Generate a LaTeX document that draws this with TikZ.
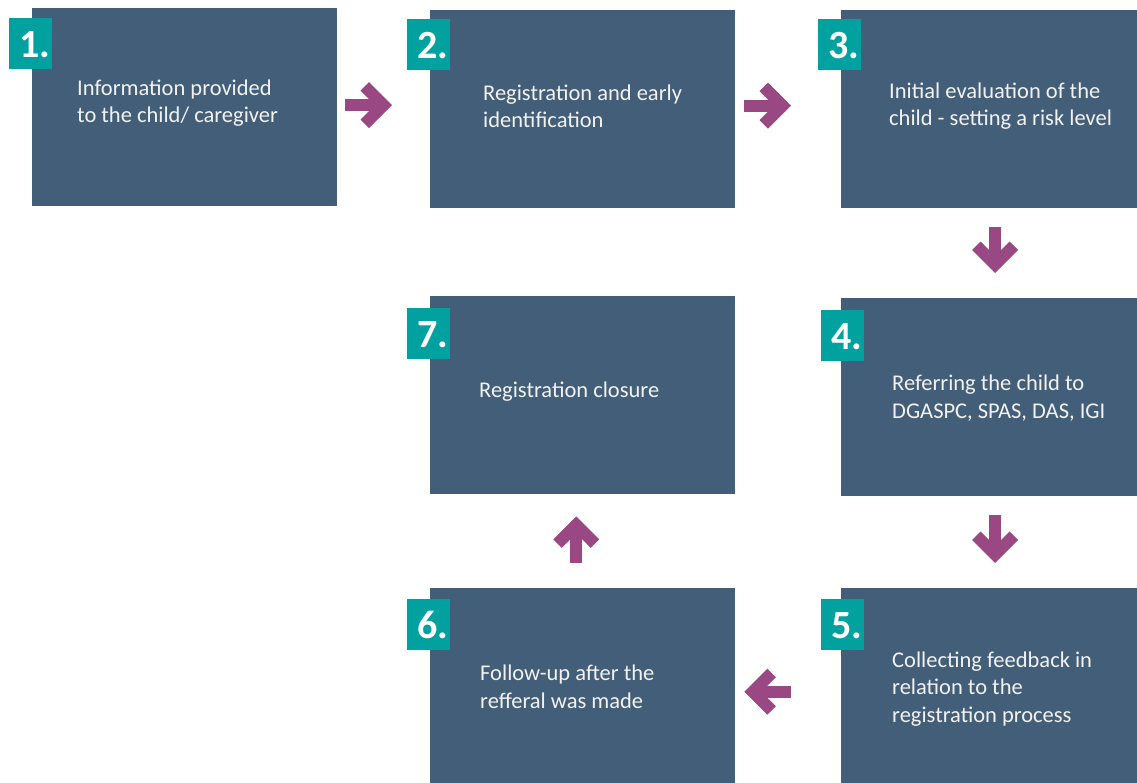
\documentclass[tikz,border=0pt]{standalone}
\usepackage{fontspec}
\setmainfont{Carlito}
\usetikzlibrary{calc}
\definecolor{boxblue}{HTML}{425E78}
\definecolor{badgeteal}{HTML}{00A19E}
\definecolor{arrowpurple}{HTML}{9A4884}
\definecolor{textwhite}{HTML}{F2F2F2}

% block arrow: shaft plus a mitred chevron head, from tail #1 to tip #2
\newcommand\flowarrow[2]{%
  \coordinate (fa-v) at ($(#2)!8.5pt!(#1)$);
  \draw[flow] (#1) -- (fa-v);
  \draw[flow, line join=miter] ($(fa-v)!26.5pt!45:(#1)$) -- (fa-v) -- ($(fa-v)!26.5pt!-45:(#1)$);
}

\begin{document}
\begin{tikzpicture}[x=1pt, y=-1pt,
  stepbox/.style={rectangle, fill=boxblue, minimum width=305pt, minimum height=198pt,
    inner sep=0pt, anchor=north west},
  badge/.style={rectangle, fill=badgeteal, minimum width=43pt, minimum height=51pt,
    inner sep=0pt, text width=39pt, align=right, text=white,
    font=\fontsize{40}{40}\selectfont\bfseries, text height=27pt, text depth=0pt,
    anchor=north west},
  steptext/.style={text=textwhite, align=left, anchor=base west, inner sep=0pt,
    font=\fontsize{22.5}{27.5}\selectfont},
  flow/.style={draw=arrowpurple, line width=12pt, line cap=butt}
]
\useasboundingbox (0,0) rectangle (1137,783);
\clip (0,0) rectangle (1137,783);

% step boxes
\node[stepbox] (b1) at (32,8) {};
\node[stepbox] (b2) at (430,10) {};
\node[stepbox] (b3) at (841,10) {};
\node[stepbox] (b4) at (841,298) {};
\node[stepbox] (b7) at (430,296) {};
\node[stepbox] (b5) at (841,588) {};
\node[stepbox] (b6) at (430,588) {};

% number badges
\node[badge] (n1) at (9,18) {1.};
\node[badge] (n2) at (407,19) {2.};
\node[badge] (n3) at (818,19) {3.};
\node[badge] (n4) at (821,310) {4.};
\node[badge] (n7) at (407,308) {7.};
\node[badge] (n5) at (821,599) {5.};
\node[badge] (n6) at (407,599) {6.};

% step descriptions (anchored on the baseline of the last line)
\node[steptext] (t1) at (77,123) {Information provided\\to the child/ caregiver};
\node[steptext] (t2) at (483,128) {Registration and early\\identification};
\node[steptext] (t3) at (889,126) {Initial evaluation of the\\child - setting a risk level};
\node[steptext] (t4) at (892,418) {Referring the child to\\DGASPC, SPAS, DAS, IGI};
\node[steptext] (t7) at (479,397) {Registration closure};
\node[steptext] (t5) at (892,722) {Collecting feedback in\\relation to the\\registration process};
\node[steptext] (t6) at (480,708) {Follow-up after the\\refferal was made};

% flow arrows between the steps
\coordinate (a12s) at ($(b1.east)+(8,-2)$);
\coordinate (a12t) at ($(a12s -| b2.west)+(-38,0)$);
\coordinate (a23s) at ($(b2.east)+(9,-3.5)$);
\coordinate (a23t) at ($(a23s -| b3.west)+(-50,0)$);
\coordinate (a34s) at ($(b3.south)+(1.5,19)$);
\coordinate (a34t) at ($(a34s |- b4.north)+(0,-25)$);
\coordinate (a45s) at ($(b4.south)+(1.5,19)$);
\coordinate (a45t) at ($(a45s |- b5.north)+(0,-25)$);
\coordinate (a56s) at ($(b5.west)+(-50,4.5)$);
\coordinate (a56t) at ($(a56s -| b6.east)+(9,0)$);
\coordinate (a67s) at ($(b6.north)+(-6.5,-25)$);
\coordinate (a67t) at ($(a67s |- b7.south)+(0,22)$);

\flowarrow{a12s}{a12t}
\flowarrow{a23s}{a23t}
\flowarrow{a34s}{a34t}
\flowarrow{a45s}{a45t}
\flowarrow{a56s}{a56t}
\flowarrow{a67s}{a67t}
\end{tikzpicture}
\end{document}
